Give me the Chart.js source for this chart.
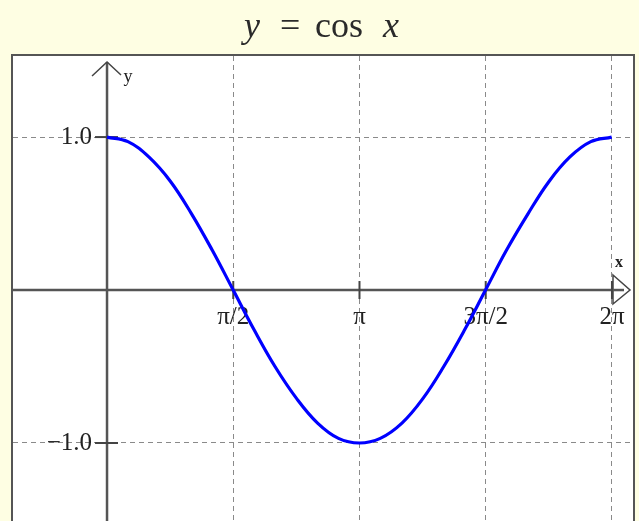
<!DOCTYPE html>
<html>
<head>
<meta charset="utf-8">
<script src="https://cdn.jsdelivr.net/npm/chart.js@4"></script>
<style>
  html, body { margin: 0; padding: 0; background: #fefee3; }
  #wrap { position: relative; width: 639px; height: 521px; overflow: hidden; }
  #title { position: absolute; left: 0; top: 0; width: 639px; height: 50px;
           font-family: 'Liberation Serif', 'DejaVu Serif', serif; font-size: 36px; color: #2a2a2a; }
  #title span { position: absolute; top: 7px; line-height: 36px; white-space: nowrap; }
  #myChart { position: absolute; left: 0; top: 0; }
</style>
</head>
<body>
<div id="wrap">
  <canvas id="myChart" width="639" height="521"></canvas>
  <div id="title">
    <span style="left:244px"><i>y</i></span>
    <span style="left:280px">=</span>
    <span style="left:315px">cos</span>
    <span style="left:383px"><i>x</i></span>
  </div>
</div>
<script>
// one period of the cosine curve, read point by point
var xValues = [0, 0.26, 0.52, 0.79, 1.05, 1.31, 1.57, 1.83, 2.09, 2.36, 2.62, 2.88, 3.14,
               3.40, 3.67, 3.93, 4.19, 4.45, 4.71, 4.97, 5.24, 5.50, 5.76, 6.02, 6.28];
var yValues = [1.00, 0.97, 0.87, 0.71, 0.50, 0.26, 0.00, -0.26, -0.50, -0.71, -0.87, -0.97, -1.00,
               -0.97, -0.87, -0.71, -0.50, -0.26, 0.00, 0.26, 0.50, 0.71, 0.87, 0.97, 1.00];

var xTickValues = [1.5708, 3.1416, 4.7124, 6.2832];
var xTickLabels = ['π/2', 'π', '3π/2', '2π'];
var yTickValues = [-1, 1];
var yTickLabels = ['−1.0', '1.0'];

var serif = "'Liberation Serif', 'DejaVu Serif', serif";

// axes are drawn inside the plot box, so they must not take any room
function noRoom(scale) {
  if (scale.isHorizontal()) scale.height = 0; else scale.width = 0;
  scale.paddingTop = 0;
  scale.paddingBottom = 0;
  scale.paddingLeft = 0;
  scale.paddingRight = 0;
}

// white plot box, axes with arrows, tick marks and axis names
var axesPlugin = {
  id: 'axesPlugin',
  beforeDraw: function (chart) {
    var c = chart.ctx, a = chart.chartArea;
    c.save();
    c.fillStyle = '#ffffff';
    c.fillRect(a.left, a.top, a.right - a.left, a.bottom - a.top);
    c.restore();
  },
  beforeDatasetsDraw: function (chart) {
    var c = chart.ctx, a = chart.chartArea;
    var xs = chart.scales.x, ys = chart.scales.y;
    var x0 = xs.getPixelForValue(0), y0 = ys.getPixelForValue(0);
    c.save();
    c.strokeStyle = '#555555';
    c.lineWidth = 2.5;
    // x axis
    c.beginPath();
    c.moveTo(a.left, y0);
    c.lineTo(a.right - 4, y0);
    c.stroke();
    // y axis
    var tipY = a.top + 6;
    c.beginPath();
    c.moveTo(x0, a.bottom);
    c.lineTo(x0, tipY);
    c.stroke();
    // tick marks across the axes
    c.lineWidth = 2;
    c.strokeStyle = '#444444';
    xTickValues.forEach(function (v) {
      var px = xs.getPixelForValue(v);
      c.beginPath();
      c.moveTo(px, y0 - 9);
      c.lineTo(px, y0 + 9);
      c.stroke();
    });
    yTickValues.forEach(function (v) {
      var py = ys.getPixelForValue(v);
      c.beginPath();
      c.moveTo(x0 - 12, py);
      c.lineTo(x0 + 11, py);
      c.stroke();
    });
    // open arrow head on y
    c.lineWidth = 1.5;
    c.beginPath();
    c.moveTo(x0 - 15, tipY + 14);
    c.lineTo(x0, tipY);
    c.lineTo(x0 + 14, tipY + 13);
    c.stroke();
    // outlined triangle on x
    var tipX = a.right - 3;
    c.beginPath();
    c.moveTo(tipX - 17, y0 - 15);
    c.lineTo(tipX, y0);
    c.lineTo(tipX - 17, y0 + 14);
    c.closePath();
    c.fillStyle = '#ffffff';
    c.fill();
    c.stroke();
    c.beginPath();
    c.lineWidth = 2.5;
    c.strokeStyle = '#555555';
    c.moveTo(tipX - 17, y0);
    c.lineTo(tipX - 6, y0);
    c.stroke();
    // axis names
    c.fillStyle = '#222222';
    c.textAlign = 'center';
    c.textBaseline = 'middle';
    c.font = '18px ' + serif;
    c.fillText('y', x0 + 21, tipY + 15);
    c.font = 'bold 16px ' + serif;
    c.fillText('x', tipX - 11, y0 - 27);
    c.restore();
  },
  afterDraw: function (chart) {
    var c = chart.ctx, a = chart.chartArea;
    c.save();
    c.strokeStyle = '#555555';
    c.lineWidth = 2;
    c.strokeRect(a.left - 1, a.top - 1, a.right - a.left + 2, a.bottom - a.top + 20);
    c.restore();
  }
};

var ctx = document.getElementById('myChart').getContext('2d');

var myChart = new Chart(ctx, {
  type: 'line',
  data: {
    datasets: [{
      data: xValues.map(function (x, i) { return { x: x, y: yValues[i] }; }),
      borderColor: '#0000ff',
      borderWidth: 3.2,
      pointRadius: 0,
      fill: false,
      tension: 0.4
    }]
  },
  options: {
    responsive: false,
    animation: false,
    layout: { autoPadding: false, padding: { left: 13, top: 56, right: 6, bottom: 0 } },
    plugins: {
      legend: { display: false },
      tooltip: { enabled: false }
    },
    scales: {
      x: {
        type: 'linear',
        position: { y: 0 },
        min: -1.17,
        max: 6.545,
        afterFit: noRoom,
        afterBuildTicks: function (scale) {
          scale.ticks = xTickValues.map(function (v) { return { value: v }; });
        },
        ticks: {
          callback: function (v, i) { return xTickLabels[i]; },
          font: { family: serif, size: 25 },
          color: '#222222',
          padding: 12,
          maxRotation: 0,
          autoSkip: false
        },
        grid: { color: '#8a8a8a', lineWidth: 1, drawTicks: false },
        border: { display: false, dash: [5, 4] }
      },
      y: {
        type: 'linear',
        // labels sit just left of the vertical axis
        position: { x: -0.187 },
        min: -1.51,
        max: 1.53,
        afterFit: noRoom,
        afterBuildTicks: function (scale) {
          scale.ticks = yTickValues.map(function (v) { return { value: v }; });
        },
        ticks: {
          callback: function (v, i) { return yTickLabels[i]; },
          font: { family: serif, size: 25 },
          color: '#222222',
          autoSkip: false
        },
        grid: { color: '#8a8a8a', lineWidth: 1, drawTicks: false },
        border: { display: false, dash: [5, 4] }
      }
    }
  },
  plugins: [axesPlugin]
});
</script>
</body>
</html>
